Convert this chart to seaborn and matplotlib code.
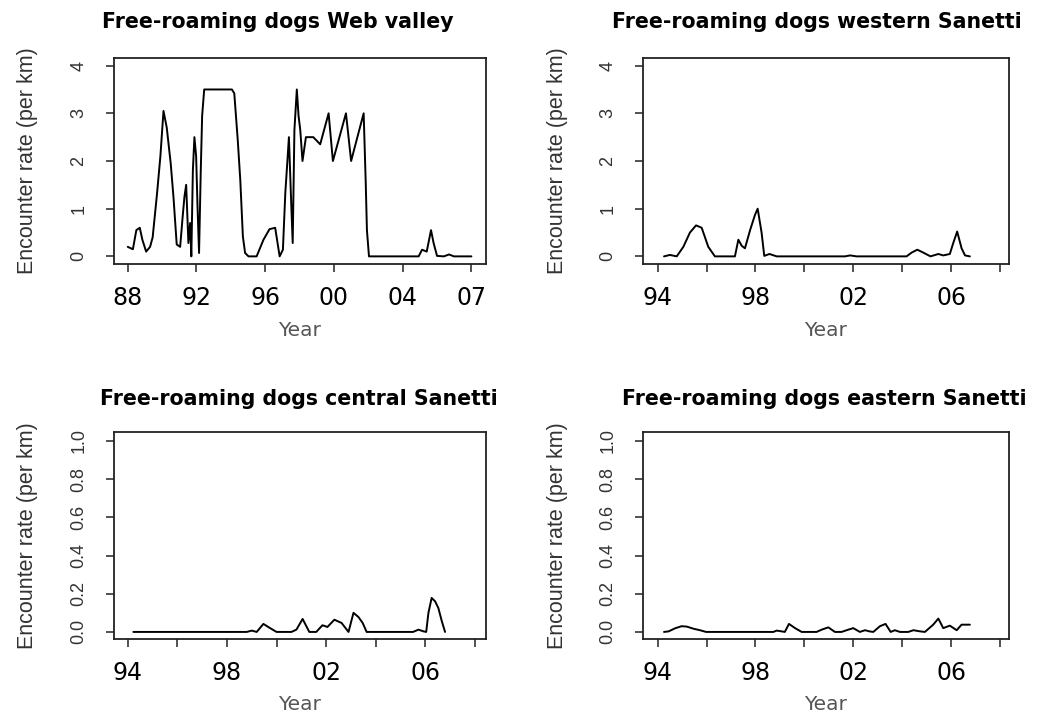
import matplotlib
matplotlib.use("Agg")
import matplotlib.pyplot as plt
import seaborn as sns
import pandas as pd

# ---- data: encounter rates of free-roaming dogs (per km) ----
web_year = [1988.0, 1988.3, 1988.5, 1988.7, 1988.85, 1989.07, 1989.3, 1989.45, 1989.7, 1989.9,
            1990.08, 1990.27, 1990.5, 1990.66, 1990.85, 1991.05, 1991.2, 1991.3, 1991.4, 1991.53,
            1991.63, 1991.7, 1991.79, 1991.88, 1991.98, 1992.06, 1992.15, 1992.25, 1992.33, 1992.45,
            1994.06, 1994.2, 1994.4, 1994.55, 1994.7, 1994.83, 1995.03, 1995.5, 1995.9, 1996.25,
            1996.58, 1996.84, 1997.03, 1997.17, 1997.3, 1997.38, 1997.5, 1997.6, 1997.7, 1997.84,
            1997.94, 1998.04, 1998.17, 1998.37, 1998.8, 1999.2, 1999.69, 1999.94, 2000.7, 2001.0,
            2001.73, 2001.85, 2001.92, 2002.04, 2004.93, 2005.13, 2005.4, 2005.65, 2005.8, 2006.0,
            2006.4, 2006.7, 2006.98, 2008.0]
web_rate = [0.2, 0.15, 0.55, 0.6, 0.35, 0.1, 0.2, 0.4, 1.3, 2.1,
            3.05, 2.7, 1.95, 1.25, 0.25, 0.2, 0.85, 1.25, 1.5, 0.28,
            0.7, 0.0, 1.8, 2.5, 2.1, 1.05, 0.07, 1.8, 2.95, 3.5,
            3.5, 3.42, 2.45, 1.6, 0.42, 0.07, 0.0, 0.0, 0.35, 0.57,
            0.6, 0.0, 0.14, 1.33, 2.05, 2.5, 1.25, 0.28, 2.65, 3.5,
            2.95, 2.65, 2.0, 2.5, 2.5, 2.35, 3.0, 2.0, 3.0, 2.0,
            3.0, 1.55, 0.55, 0.0, 0.0, 0.14, 0.1, 0.55, 0.28, 0.01,
            0.0, 0.04, 0.0, 0.0]

west_year = [1994.26, 1994.5, 1994.78, 1995.05, 1995.32, 1995.57, 1995.8, 1996.07, 1996.34, 1997.16,
             1997.3, 1997.44, 1997.57, 1997.78, 1997.98, 1998.09, 1998.25, 1998.36, 1998.57, 1998.87,
             2001.66, 2001.87, 2002.14, 2004.18, 2004.39, 2004.62, 2004.86, 2005.16, 2005.48, 2005.68,
             2005.95, 2006.09, 2006.25, 2006.43, 2006.57, 2006.77]
west_rate = [0.0, 0.03, 0.0, 0.2, 0.5, 0.65, 0.6, 0.2, 0.0, 0.0,
             0.35, 0.22, 0.17, 0.55, 0.87, 1.0, 0.5, 0.01, 0.05, 0.0,
             0.0, 0.02, 0.0, 0.0, 0.08, 0.14, 0.08, 0.0, 0.05, 0.02,
             0.05, 0.28, 0.52, 0.17, 0.02, 0.0]

central_year = [1994.23, 1998.8, 1999.0, 1999.2, 1999.47, 1999.74, 2000.0, 2000.6, 2000.8, 2001.05,
                2001.32, 2001.6, 2001.85, 2002.05, 2002.33, 2002.62, 2002.9, 2003.1, 2003.3, 2003.47,
                2003.63, 2005.5, 2005.72, 2005.92, 2006.03, 2006.12, 2006.25, 2006.39, 2006.52, 2006.66,
                2006.79]
central_rate = [0.0, 0.0, 0.007, 0.0, 0.042, 0.02, 0.0, 0.0, 0.012, 0.068,
                0.0, 0.0, 0.035, 0.026, 0.064, 0.047, 0.0, 0.1, 0.078, 0.047,
                0.0, 0.0, 0.012, 0.003, 0.0, 0.1, 0.178, 0.16, 0.125, 0.056,
                0.0]

east_year = [1994.26, 1994.45, 1994.71, 1994.98, 1995.19, 1995.46, 1995.73, 1995.98, 1998.73, 1998.87,
             1999.07, 1999.2, 1999.37, 1999.62, 1999.89, 2000.5, 2000.71, 2000.98, 2001.25, 2001.52,
             2001.8, 2002.0, 2002.27, 2002.48, 2002.66, 2002.82, 2003.09, 2003.32, 2003.53, 2003.7,
             2003.91, 2004.25, 2004.46, 2004.73, 2004.93, 2005.27, 2005.48, 2005.68, 2005.95, 2006.23,
             2006.43, 2006.77]
east_rate = [0.0, 0.003, 0.019, 0.03, 0.028, 0.017, 0.009, 0.0, 0.0, 0.007,
             0.003, 0.0, 0.042, 0.02, 0.0, 0.0, 0.012, 0.024, 0.0, 0.0,
             0.012, 0.02, 0.0, 0.009, 0.003, 0.0, 0.03, 0.042, 0.0, 0.009,
             0.0, 0.0, 0.009, 0.003, 0.0, 0.038, 0.07, 0.02, 0.033, 0.009,
             0.038, 0.038]

titles = ["Free-roaming dogs Web valley", "Free-roaming dogs western Sanetti",
          "Free-roaming dogs central Sanetti", "Free-roaming dogs eastern Sanetti"]

web_xticks = [1988, 1992, 1996, 2000, 2004, 2008]
web_xlabels = ["88", "92", "96", "00", "04", "07"]
san_xticks = [1994, 1996, 1998, 2000, 2002, 2004, 2006, 2008]
san_xlabels = ["94", "", "98", "", "02", "", "06", ""]

top_yticks = [0, 1, 2, 3, 4]
top_ylabels = ["0", "1", "2", "3", "4"]
bot_yticks = [0.0, 0.2, 0.4, 0.6, 0.8, 1.0]
bot_ylabels = ["0.0", "0.2", "0.4", "0.6", "0.8", "1.0"]

# ---- styling ----
sns.set_style("ticks")
plt.rcParams["font.family"] = ["DejaVu Sans"]
SANS = ["Liberation Sans", "DejaVu Sans"]

W, H = 1051, 716
fig = plt.figure(figsize=(W / 100, H / 100), dpi=100)


def box(l, t, r, b):
    return [l / W, 1 - b / H, (r - l) / W, (b - t) / H]


panels = [
    (box(114, 58, 486, 264), web_year, web_rate, web_xticks, web_xlabels,
     (1987.2, 2008.85), top_yticks, top_ylabels, (-0.16, 4.16)),
    (box(643, 58, 1009, 264), west_year, west_rate, san_xticks, san_xlabels,
     (1993.4, 2008.37), top_yticks, top_ylabels, (-0.16, 4.16)),
    (box(114, 432, 486, 639), central_year, central_rate, san_xticks, san_xlabels,
     (1993.45, 2008.44), bot_yticks, bot_ylabels, (-0.037, 1.047)),
    (box(643, 432, 1009, 639), east_year, east_rate, san_xticks, san_xlabels,
     (1993.4, 2008.37), bot_yticks, bot_ylabels, (-0.037, 1.047)),
]

title_pos = [(278, 28), (817, 28), (299, 405), (824, 405)]
year_y = [-0.325, -0.325, -0.315, -0.315]

for i, (pos, xs, ys, xt, xl, xlim, yt, yl, ylim) in enumerate(panels):
    ax = fig.add_axes(pos)
    df = pd.DataFrame({"Year": xs, "rate": ys})
    sns.lineplot(data=df, x="Year", y="rate", ax=ax, color="black",
                 linewidth=1.4, estimator=None, sort=False)
    ax.set_xlim(*xlim)
    ax.set_ylim(*ylim)

    ax.set_xticks(xt)
    ax.set_xticklabels(xl, fontsize=17, color="black")
    ax.set_yticks(yt)
    ax.set_yticklabels(yl, fontsize=13, color="#333333", rotation=90,
                       va="center", family=SANS)
    ax.tick_params(axis="x", direction="out", length=6, width=1.1, pad=10,
                   color="#222222")
    ax.tick_params(axis="y", direction="out", length=6, width=1.1, pad=13,
                   color="#222222")

    for sp in ax.spines.values():
        sp.set_visible(True)
        sp.set_linewidth(1.3)
        sp.set_color("#222222")

    ax.set_ylabel("Encounter rate (per km)", fontsize=15.5, color="#333333",
                  family=SANS)
    ax.yaxis.set_label_coords(-0.205, 0.5)
    ax.set_xlabel("Year", fontsize=14.5, color="#555555", va="center")
    ax.xaxis.set_label_coords(0.5, year_y[i])

    tx, ty = title_pos[i]
    fig.text(tx / W, 1 - ty / H, titles[i], fontsize=14.8, fontweight="bold",
             ha="center", va="baseline", color="black")

fig.savefig("out.png", dpi=100, facecolor="white")
